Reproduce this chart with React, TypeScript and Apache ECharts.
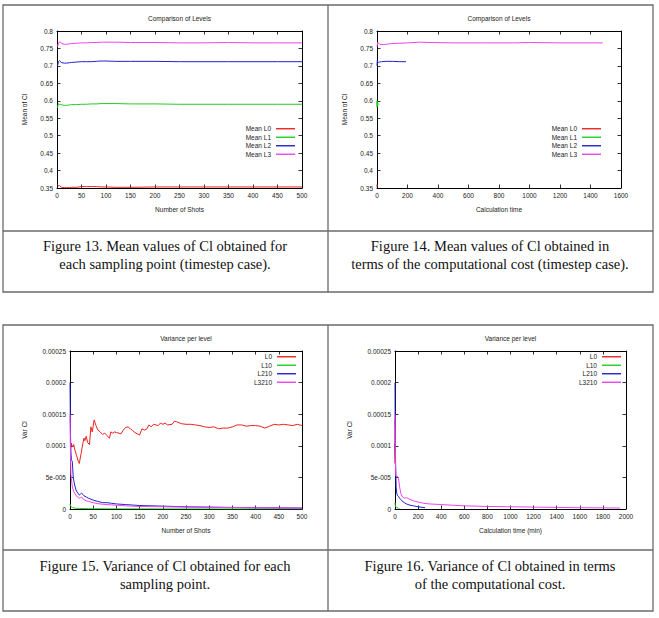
import React, { useEffect, useRef } from "react";
import * as echarts from "echarts";

const W = 659;
const H = 618;
const SANS = "'Liberation Sans', Arial, sans-serif";
const SERIF = "'Liberation Serif', serif";

// ---------- Figure 13: mean of Cl vs number of shots ----------
const shotsMean = [1, 3, 5, 8, 10, 15, 20, 25, 30, 40, 50, 60, 70, 80, 90, 100, 120, 150, 200, 250, 300, 350, 400, 450, 500];
const meanL0 = [0.36, 0.356, 0.357, 0.353, 0.352, 0.351, 0.351, 0.351, 0.352, 0.352, 0.354, 0.354, 0.354, 0.354, 0.353, 0.353, 0.352, 0.352, 0.353, 0.353, 0.353, 0.353, 0.353, 0.353, 0.353];
const meanL1 = [0.58, 0.592, 0.589, 0.59, 0.588, 0.587, 0.587, 0.588, 0.589, 0.589, 0.59, 0.59, 0.591, 0.591, 0.592, 0.592, 0.592, 0.591, 0.591, 0.59, 0.59, 0.59, 0.59, 0.59, 0.59];
const meanL2 = [0.70, 0.712, 0.715, 0.711, 0.709, 0.708, 0.708, 0.709, 0.71, 0.711, 0.712, 0.712, 0.712, 0.713, 0.714, 0.714, 0.713, 0.713, 0.713, 0.712, 0.712, 0.712, 0.712, 0.712, 0.712];
const meanL3 = [0.755, 0.765, 0.769, 0.766, 0.764, 0.762, 0.762, 0.763, 0.764, 0.765, 0.766, 0.766, 0.767, 0.767, 0.768, 0.768, 0.768, 0.767, 0.767, 0.766, 0.766, 0.767, 0.766, 0.766, 0.766];

// ---------- Figure 14: mean of Cl vs calculation time ----------
const costMeanL0 = [0, 0.5, 1, 2, 3];
const costValL0 = [0.36, 0.352, 0.351, 0.353, 0.353];
const costMeanL1 = [0, 0.5, 1, 2, 4, 8, 15];
const costValL1 = [0.58, 0.6, 0.585, 0.592, 0.589, 0.591, 0.59];
const costMeanL2 = [0, 2, 4, 8, 15, 30, 60, 100, 150, 190];
const costValL2 = [0.7, 0.715, 0.708, 0.71, 0.711, 0.712, 0.713, 0.713, 0.712, 0.712];
const costMeanL3 = [0, 5, 10, 20, 40, 60, 100, 150, 200, 280, 350, 500, 700, 900, 1000, 1200, 1480];
const costValL3 = [0.755, 0.768, 0.765, 0.762, 0.761, 0.762, 0.764, 0.765, 0.766, 0.768, 0.767, 0.766, 0.766, 0.766, 0.767, 0.766, 0.766];

// ---------- Figure 15: variance vs number of shots ----------
const shotsVarL0 = [1, 3, 5, 8, 10, 14, 18, 20, 24, 28, 30, 32, 35, 38, 42, 45, 48, 52, 56, 60, 65, 70, 75, 80, 85, 88, 92, 96, 100, 110, 115, 120, 125, 130, 135, 140, 150, 155, 160, 165, 170, 175, 180, 190, 195, 200, 205, 210, 220, 225, 230, 240, 250, 260, 270, 280, 290, 300, 310, 320, 330, 340, 350, 360, 370, 380, 390, 400, 410, 420, 430, 440, 450, 460, 470, 480, 490, 500];
const varL0 = [0.95e-4, 1.04e-4, 0.98e-4, 1.02e-4, 0.95e-4, 0.85e-4, 0.75e-4, 0.72e-4, 0.88e-4, 1.05e-4, 1.12e-4, 1.08e-4, 1.15e-4, 1.05e-4, 1.02e-4, 1.3e-4, 1.22e-4, 1.41e-4, 1.32e-4, 1.25e-4, 1.22e-4, 1.18e-4, 1.2e-4, 1.16e-4, 1.12e-4, 1.22e-4, 1.2e-4, 1.22e-4, 1.21e-4, 1.19e-4, 1.25e-4, 1.29e-4, 1.3e-4, 1.27e-4, 1.24e-4, 1.21e-4, 1.17e-4, 1.27e-4, 1.25e-4, 1.26e-4, 1.33e-4, 1.3e-4, 1.34e-4, 1.32e-4, 1.36e-4, 1.34e-4, 1.36e-4, 1.33e-4, 1.34e-4, 1.39e-4, 1.38e-4, 1.35e-4, 1.34e-4, 1.34e-4, 1.33e-4, 1.32e-4, 1.3e-4, 1.29e-4, 1.3e-4, 1.27e-4, 1.28e-4, 1.28e-4, 1.3e-4, 1.33e-4, 1.33e-4, 1.31e-4, 1.32e-4, 1.32e-4, 1.31e-4, 1.28e-4, 1.31e-4, 1.34e-4, 1.33e-4, 1.34e-4, 1.33e-4, 1.32e-4, 1.34e-4, 1.32e-4];
const shotsVarL10 = [0, 1, 2, 3, 5, 8, 12, 20, 40, 100, 200, 500];
const varL10 = [0.08e-4, 0.05e-4, 0.04e-4, 0.03e-4, 0.025e-4, 0.018e-4, 0.012e-4, 0.008e-4, 0.005e-4, 0.002e-4, 0.001e-4, 0.0005e-4];
const shotsVarL2 = [0, 1, 2, 3, 5, 7, 10, 13, 15, 18, 20, 23, 25, 28, 30, 35, 40, 50, 60, 70, 80, 90, 100, 120, 150, 200, 250, 300, 400, 500];
const varL210 = [2.0e-4, 1.2e-4, 0.9e-4, 0.78e-4, 0.75e-4, 0.5e-4, 0.38e-4, 0.3e-4, 0.27e-4, 0.24e-4, 0.22e-4, 0.24e-4, 0.25e-4, 0.23e-4, 0.21e-4, 0.19e-4, 0.17e-4, 0.14e-4, 0.12e-4, 0.1e-4, 0.1e-4, 0.09e-4, 0.08e-4, 0.07e-4, 0.055e-4, 0.045e-4, 0.035e-4, 0.03e-4, 0.02e-4, 0.015e-4];
const shotsVarL3 = [0, 1, 2, 3, 5, 8, 10, 13, 15, 18, 20, 23, 25, 28, 30, 35, 40, 50, 60, 70, 80, 90, 100, 120, 150, 200, 250, 300, 400, 500];
const varL3210 = [1.5e-4, 0.9e-4, 0.55e-4, 0.48e-4, 0.35e-4, 0.28e-4, 0.25e-4, 0.21e-4, 0.2e-4, 0.18e-4, 0.17e-4, 0.18e-4, 0.19e-4, 0.16e-4, 0.15e-4, 0.13e-4, 0.12e-4, 0.1e-4, 0.085e-4, 0.075e-4, 0.07e-4, 0.065e-4, 0.06e-4, 0.05e-4, 0.04e-4, 0.035e-4, 0.03e-4, 0.025e-4, 0.02e-4, 0.015e-4];

// ---------- Figure 16: variance vs calculation time (min) ----------
const costVarL0 = [0, 0.3, 0.6, 1, 1.5];
const costVarValL0 = [0.95e-4, 1.04e-4, 0.72e-4, 1.4e-4, 1.32e-4];
const costVarL10 = [0, 2, 5, 10, 20, 30, 40];
const costVarValL10 = [0.1e-4, 0.06e-4, 0.04e-4, 0.03e-4, 0.02e-4, 0.01e-4, 0.005e-4];
const costVarL210 = [0, 2, 5, 10, 15, 20, 30, 40, 60, 80, 100, 130, 160, 200, 260];
const costVarValL210 = [2.0e-4, 0.9e-4, 0.75e-4, 0.35e-4, 0.25e-4, 0.22e-4, 0.2e-4, 0.17e-4, 0.13e-4, 0.1e-4, 0.08e-4, 0.06e-4, 0.05e-4, 0.035e-4, 0.02e-4];
const costVarL3210 = [0, 3, 6, 10, 20, 30, 40, 50, 60, 80, 100, 130, 160, 200, 250, 300, 400, 500, 600, 800, 1000, 1200, 1400, 1600, 1800, 1950];
const costVarValL3210 = [1.5e-4, 0.8e-4, 0.53e-4, 0.52e-4, 0.52e-4, 0.5e-4, 0.35e-4, 0.25e-4, 0.2e-4, 0.17e-4, 0.18e-4, 0.15e-4, 0.13e-4, 0.11e-4, 0.09e-4, 0.08e-4, 0.07e-4, 0.06e-4, 0.05e-4, 0.04e-4, 0.035e-4, 0.03e-4, 0.025e-4, 0.02e-4, 0.018e-4, 0.015e-4];

// ---------- labels ----------
const meanNames = ["Mean L0", "Mean L1", "Mean L2", "Mean L3"];
const varNames = ["L0", "L10", "L210", "L3210"];
const varTickLabels = ["0", "5e-005", "0.0001", "0.00015", "0.0002", "0.00025"];
const colors = ["#ee2222", "#22cc22", "#2222cc", "#ee44ee"];
const captions = [
  ["Figure 13. Mean values of Cl obtained for", "each sampling point (timestep case)."],
  ["Figure 14. Mean values of Cl obtained in", "terms of the computational cost (timestep case)."],
  ["Figure 15. Variance of Cl obtained for each", "sampling point."],
  ["Figure 16. Variance of Cl obtained in terms", "of the computational cost."],
];

const zip = (xs: number[], ys: number[]) => xs.map((x, i) => [x, ys[i]]);

const panels = [
  {
    grid: { left: 57, top: 31, width: 245, height: 157 },
    x: [0, 500, 50], y: [0.35, 0.8, 0.05], yGap: 29,
    title: "Comparison of Levels", xName: "Number of Shots", yName: "Mean of Cl",
    names: meanNames, varFmt: false,
    legend: { right: 364, top: 125 },
    data: [zip(shotsMean, meanL0), zip(shotsMean, meanL1), zip(shotsMean, meanL2), zip(shotsMean, meanL3)],
  },
  {
    grid: { left: 377, top: 31, width: 244, height: 157 },
    x: [0, 1600, 200], y: [0.35, 0.8, 0.05], yGap: 29,
    title: "Comparison of Levels", xName: "Calculation time", yName: "Mean of Cl",
    names: meanNames, varFmt: false,
    legend: { right: 58, top: 125 },
    data: [zip(costMeanL0, costValL0), zip(costMeanL1, costValL1), zip(costMeanL2, costValL2), zip(costMeanL3, costValL3)],
  },
  {
    grid: { left: 70, top: 351, width: 232, height: 158 },
    x: [0, 500, 50], y: [0, 0.00025, 0.00005], yGap: 42,
    title: "Variance per level", xName: "Number of Shots", yName: "Var Cl",
    names: varNames, varFmt: true,
    legend: { right: 363, top: 353 },
    data: [zip(shotsVarL0, varL0), zip(shotsVarL10, varL10), zip(shotsVarL2, varL210), zip(shotsVarL3, varL3210)],
  },
  {
    grid: { left: 395, top: 351, width: 231, height: 158 },
    x: [0, 2000, 200], y: [0, 0.00025, 0.00005], yGap: 42,
    title: "Variance per level", xName: "Calculation time (min)", yName: "Var Cl",
    names: varNames, varFmt: true,
    legend: { right: 38, top: 353 },
    data: [zip(costVarL0, costVarValL0), zip(costVarL10, costVarValL10), zip(costVarL210, costVarValL210), zip(costVarL3210, costVarValL3210)],
  },
];

const FS = 6.5;
const TXT = "#222";

function buildOption() {
  const grid: any[] = [];
  const xAxis: any[] = [];
  const yAxis: any[] = [];
  const series: any[] = [];
  const legend: any[] = [];
  const graphic: any[] = [];

  const tick = { show: true, inside: true, length: 3.5, lineStyle: { color: "#000", width: 0.8 } };
  const line = { show: true, onZero: false, lineStyle: { color: "#000", width: 1 } };

  panels.forEach((p, gi) => {
    grid.push({ ...p.grid, containLabel: false });
    const xBase = { type: "value", gridIndex: gi, min: p.x[0], max: p.x[1], interval: p.x[2], splitLine: { show: false }, axisLine: line, axisTick: tick };
    const yBase = { type: "value", gridIndex: gi, min: p.y[0], max: p.y[1], interval: p.y[2], splitLine: { show: false }, axisLine: line, axisTick: tick };
    const xi = xAxis.length;
    const yi = yAxis.length;
    xAxis.push({
      ...xBase, position: "bottom",
      axisLabel: { fontSize: FS, color: TXT, fontFamily: SANS, margin: 4, formatter: (v: number) => String(v) },
      name: p.xName, nameLocation: "middle", nameGap: 18,
      nameTextStyle: { fontSize: FS, color: TXT, fontFamily: SANS },
    });
    xAxis.push({ ...xBase, position: "top", axisLabel: { show: false } });
    yAxis.push({
      ...yBase, position: "left",
      axisLabel: {
        fontSize: FS, color: TXT, fontFamily: SANS, margin: 4,
        formatter: p.varFmt
          ? (v: number) => varTickLabels[Math.round(v / 0.00005)]
          : (v: number) => String(Math.round(v * 100) / 100),
      },
      name: p.yName, nameLocation: "middle", nameGap: p.yGap, nameRotate: 90,
      nameTextStyle: { fontSize: FS, color: TXT, fontFamily: SANS },
    });
    yAxis.push({ ...yBase, position: "right", axisLabel: { show: false } });

    p.data.forEach((d, si) => {
      series.push({
        type: "line", name: p.names[si], xAxisIndex: xi, yAxisIndex: yi, data: d,
        symbol: "none", showSymbol: false, color: colors[si],
        lineStyle: { width: 1, color: colors[si] }, z: 2 + si,
      });
    });

    legend.push({
      data: p.names, orient: "vertical", align: "right", right: p.legend.right, top: p.legend.top,
      icon: "rect", itemWidth: 19, itemHeight: 1.4, itemGap: 1, padding: 0, selectedMode: false,
      textStyle: { fontSize: FS, color: TXT, fontFamily: SANS, lineHeight: 7.5 },
    });

    graphic.push({
      type: "text", silent: true,
      style: {
        text: p.title, x: p.grid.left + p.grid.width / 2, y: p.grid.top - 13,
        align: "center", verticalAlign: "middle", font: `${FS}px ${SANS}`, fill: TXT,
      },
    });
  });

  // table borders
  const bc = "#6a6a6a";
  const tables = [
    { top: 5, mid: 231, bottom: 292 },
    { top: 325, mid: 550, bottom: 611 },
  ];
  tables.forEach((t) => {
    graphic.push({ type: "rect", silent: true, shape: { x: 3, y: t.top, width: 650, height: t.bottom - t.top }, style: { fill: "none", stroke: bc, lineWidth: 1.3 } });
    graphic.push({ type: "line", silent: true, shape: { x1: 328, y1: t.top, x2: 328, y2: t.bottom }, style: { stroke: bc, lineWidth: 1.3 } });
    graphic.push({ type: "line", silent: true, shape: { x1: 3, y1: t.mid, x2: 653, y2: t.mid }, style: { stroke: bc, lineWidth: 1.3 } });
  });

  const capPos = [
    { x: 165, y: 246 }, { x: 490, y: 246 },
    { x: 165, y: 566 }, { x: 490, y: 566 },
  ];
  captions.forEach((c, i) => {
    c.forEach((ln, j) => {
      graphic.push({
        type: "text", silent: true,
        style: { text: ln, x: capPos[i].x, y: capPos[i].y + j * 18, align: "center", verticalAlign: "middle", font: `14.5px ${SERIF}`, fill: "#111" },
      });
    });
  });

  return { animation: false, backgroundColor: "#fff", grid, xAxis, yAxis, series, legend, graphic };
}

export default function App() {
  const ref = useRef<HTMLDivElement>(null);
  useEffect(() => {
    if (!ref.current) return;
    const chart = echarts.init(ref.current, null, { renderer: "svg", width: W, height: H });
    chart.setOption(buildOption() as any);
    return () => chart.dispose();
  }, []);
  return <div ref={ref} style={{ position: "absolute", left: 0, top: 0, width: W, height: H, background: "#fff" }} />;
}
